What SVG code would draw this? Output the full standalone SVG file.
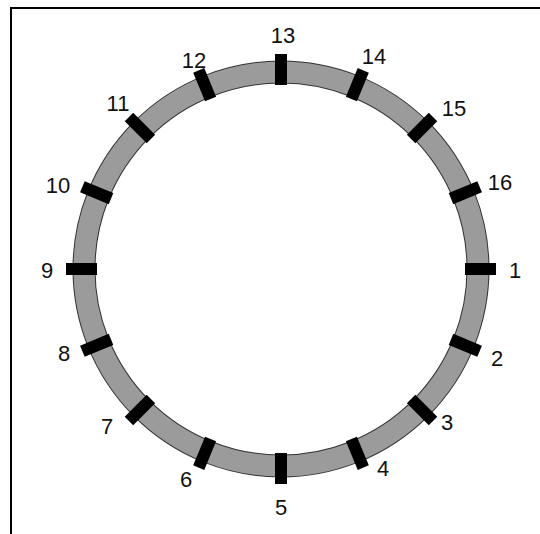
<svg xmlns="http://www.w3.org/2000/svg" width="540" height="534" viewBox="0 0 540 534">
<style>
.lbl{font-family:"Liberation Sans",Arial,sans-serif;font-size:22px;fill:#111;text-anchor:middle}
.tick{fill:#000}
</style>
<defs>
<rect id="tk" class="tick" x="184" y="-6" width="31" height="12"/>
</defs>
<rect width="540" height="534" fill="#fff"/>
<path d="M11,534 V8 H540" fill="none" stroke="#000" stroke-width="2"/>
<g id="ring">
<circle cx="281" cy="269" r="197" fill="none" stroke="#333" stroke-width="23"/>
<circle cx="281" cy="269" r="197" fill="none" stroke="#9b9b9b" stroke-width="21"/>
</g>
<g id="ticks" transform="translate(281,269)">
<use href="#tk" transform="rotate(0)"/>
<use href="#tk" transform="rotate(22.5)"/>
<use href="#tk" transform="rotate(45)"/>
<use href="#tk" transform="rotate(67.5)"/>
<use href="#tk" transform="rotate(90)"/>
<use href="#tk" transform="rotate(112.5)"/>
<use href="#tk" transform="rotate(135)"/>
<use href="#tk" transform="rotate(157.5)"/>
<use href="#tk" transform="rotate(180)"/>
<use href="#tk" transform="rotate(202.5)"/>
<use href="#tk" transform="rotate(225)"/>
<use href="#tk" transform="rotate(247.5)"/>
<use href="#tk" transform="rotate(270)"/>
<use href="#tk" transform="rotate(292.5)"/>
<use href="#tk" transform="rotate(315)"/>
<use href="#tk" transform="rotate(337.5)"/>
</g>
<g id="labels">
<text class="lbl" x="515" y="278">1</text>
<text class="lbl" x="497" y="366">2</text>
<text class="lbl" x="447" y="430">3</text>
<text class="lbl" x="383" y="476">4</text>
<text class="lbl" x="281" y="515">5</text>
<text class="lbl" x="186" y="487">6</text>
<text class="lbl" x="107" y="434">7</text>
<text class="lbl" x="64" y="361">8</text>
<text class="lbl" x="47" y="278">9</text>
<text class="lbl" x="58" y="193">10</text>
<text class="lbl" x="118" y="111">11</text>
<text class="lbl" x="194" y="68">12</text>
<text class="lbl" x="283" y="43">13</text>
<text class="lbl" x="374" y="64">14</text>
<text class="lbl" x="454" y="116">15</text>
<text class="lbl" x="500" y="190">16</text>
</g>
</svg>
